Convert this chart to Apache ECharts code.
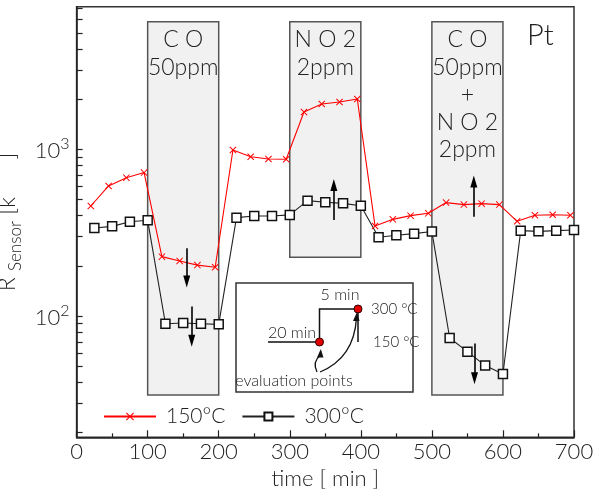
<!DOCTYPE html>
<html><head><meta charset="utf-8">
<script src="https://cdn.jsdelivr.net/npm/echarts@6/dist/echarts.min.js"></script>
<style>html,body{margin:0;padding:0;background:#fff}#c{width:600px;height:495px}</style>
</head><body><div id="c"></div>
<script>
// ---- data ----
const timeRed = [20,45,70,95,120,145,170,195,220,245,270,295,320,345,370,395,420,445,470,495,520,545,570,595,620,645,670,695];
const r150 = [457,603,676,725,227,214,202,196,990,903,875,871,1675,1870,1922,2004,347,380,400,413,479,466,472,466,370,402,405,402];
const timeBlack = [25,50,75,100,125,150,175,200,225,250,275,300,325,350,375,400,425,450,475,500,525,550,575,600,625,650,675,700];
const r300 = [337,345,368,375,89.9,90.8,89.9,89.1,389,398,398,404,492,481,474,459,297,305,312,321,73.8,61.1,50.4,44.9,325,322,325,328];
const seriesNames = ['150°C','300°C'];
const yLabelValues = [100,1000];
const yTickValues = [20,30,40,50,60,70,80,90,100,200,300,400,500,600,700,800,900,1000,2000,3000,4000,5000,6000,7000];
const boxStart = [100,300,500];
const boxEnd = [200,400,600];
const boxBottom = [33.6,225,33.6];
const boxTop = 5820;
const boxLabels = ['C O\n50ppm','N O 2\n2ppm','C O\n50ppm\n+\nN O 2\n2ppm'];
const arrowX = [155,162,362,559,560];
const arrowFrom = [255,114,377,394,68.5];
const arrowTo = [161,71,611,640,42.3];
const xTitle = 'time [ min ]';
const panelLabel = 'Pt';

const FONT = 'Lato';
const FW = 300;
const TXT = '#222';

const chart = echarts.init(document.getElementById('c'), null, {renderer:'canvas'});

const markAreaData = boxStart.map((s,i)=>[
  {xAxis:s, yAxis:boxBottom[i], label:{formatter:boxLabels[i]}},
  {xAxis:boxEnd[i], yAxis:boxTop}
]);
const markLineData = arrowX.map((x,i)=>[{coord:[x,arrowFrom[i]]},{coord:[x,arrowTo[i]]}]);

const xMark = 'path://M0,1 L1,0 L5,4 L9,0 L10,1 L6,5 L10,9 L9,10 L5,6 L1,10 L0,9 L4,5 Z';

const option = {
  animation:false,
  title:{text:panelLabel,left:527,top:21,padding:0,textStyle:{fontFamily:FONT,fontSize:29,fontWeight:FW,color:TXT}},
  grid:{left:76.6,right:26,top:6.7,bottom:57.7,outerBoundsMode:'none',containLabel:false,show:true,borderColor:'#333',borderWidth:1.5,backgroundColor:'transparent'},
  legend:{
    data:seriesNames, left:98, top:401, itemWidth:52, itemHeight:10, itemGap:16,
    textStyle:{fontFamily:FONT,fontWeight:FW,fontSize:21,color:TXT,padding:[0,0,0,5]}
  },
  xAxis:{
    type:'value',min:0,max:700,interval:100,
    name:xTitle,nameLocation:'middle',nameGap:27,
    nameTextStyle:{fontFamily:FONT,fontWeight:FW,fontSize:22,color:TXT,verticalAlign:'top'},
    axisLine:{lineStyle:{color:'#222',width:1.5}},
    axisTick:{inside:true,length:7,lineStyle:{color:'#222',width:1.2}},
    minorTick:{show:true,splitNumber:2,length:4,lineStyle:{color:'#222',width:1.2}},
    axisLabel:{fontFamily:FONT,fontWeight:FW,fontSize:22,color:TXT,margin:4},
    splitLine:{show:false}
  },
  yAxis:{
    type:'log',min:18.72,max:7170,position:'left',
    name:'{r|R }{s|Sensor}{r| [k      ]}',nameLocation:'middle',nameGap:46,
    nameTextStyle:{rich:{
      r:{fontFamily:FONT,fontWeight:FW,fontSize:23,color:TXT,lineHeight:28,verticalAlign:'top'},
      s:{fontFamily:FONT,fontWeight:FW,fontSize:17,color:TXT,lineHeight:15,verticalAlign:'bottom'}
    }},
    axisLine:{show:true,lineStyle:{color:'#222',width:1.5}},
    axisTick:{inside:true,length:6,customValues:yTickValues,lineStyle:{color:'#222',width:1.2}},
    axisLabel:{customValues:yLabelValues,margin:7,
      formatter:v=>'{b|10}{e|'+Math.round(Math.log10(v))+'}',
      rich:{
        b:{fontFamily:FONT,fontWeight:FW,fontSize:22,color:TXT,lineHeight:26,verticalAlign:'bottom'},
        e:{fontFamily:FONT,fontWeight:FW,fontSize:16,color:TXT,lineHeight:15,verticalAlign:'top'}
      }},
    splitLine:{show:false},minorTick:{show:false}
  },
  series:[
    {
      type:'line',name:'boxes',data:[],z:1,silent:true,
      markArea:{silent:true,
        itemStyle:{color:'#f1f1f1',borderColor:'#555',borderWidth:1.5},
        label:{show:true,position:'insideTop',distance:5,fontFamily:FONT,fontWeight:FW,fontSize:23,lineHeight:27.5,color:TXT},
        data:markAreaData}
    },
    {
      type:'line',name:seriesNames[1],z:3,
      data:timeBlack.map((t,i)=>[t,r300[i]]),
      symbol:'rect',symbolSize:9,showAllSymbol:true,
      lineStyle:{color:'#222',width:1.1},
      itemStyle:{color:'#fff',borderColor:'#111',borderWidth:1.5}
    },
    {
      type:'line',name:seriesNames[0],z:4,
      data:timeRed.map((t,i)=>[t,r150[i]]),
      symbol:xMark,symbolSize:7,showAllSymbol:true,
      lineStyle:{color:'#ff0000',width:1.1},
      itemStyle:{color:'#ff0000'}
    },
    {
      type:'line',name:'arrows',data:[],z:5,silent:true,
      markLine:{silent:true,symbol:['none','triangle'],symbolSize:[7,12],
        label:{show:false},
        lineStyle:{color:'#000',width:1.6,type:'solid'},
        data:markLineData}
    }
  ],
  graphic:[
    {type:'rect',shape:{x:236,y:283,width:177,height:109},style:{fill:'#fff',stroke:'#333',lineWidth:1.5},z:10},
    {type:'polyline',shape:{points:[[268,342],[319.5,342],[319.5,309],[358,309],[358,342]]},style:{fill:null,stroke:'#111',lineWidth:1.5},z:11},
    {type:'circle',shape:{cx:319.5,cy:342,r:4},style:{fill:'#e00000',stroke:'#300',lineWidth:1},z:12},
    {type:'circle',shape:{cx:358,cy:309,r:4},style:{fill:'#e00000',stroke:'#300',lineWidth:1},z:12},
    {type:'bezierCurve',shape:{x1:317,y1:372,cpx1:312,cpy1:362,x2:320.5,y2:355},style:{fill:null,stroke:'#111',lineWidth:1.3},z:11},
    {type:'polygon',shape:{points:[[320.8,349],[317,357.5],[323.5,357.5]]},style:{fill:'#111'},z:11},
    {type:'bezierCurve',shape:{x1:320,y1:372,cpx1:354,cpy1:358,x2:356.5,y2:318},style:{fill:null,stroke:'#111',lineWidth:1.3},z:11},
    {type:'polygon',shape:{points:[[357,312],[353,321],[359.5,321]]},style:{fill:'#111'},z:11},
    {type:'text',x:340,y:295,style:{text:'5 min',fontFamily:FONT,fontWeight:FW,fontSize:16,fill:TXT,align:'center',verticalAlign:'middle'},z:12},
    {type:'text',x:292,y:333,style:{text:'20 min',fontFamily:FONT,fontWeight:FW,fontSize:16,fill:TXT,align:'center',verticalAlign:'middle'},z:12},
    {type:'text',x:371,y:309,style:{text:'300 °C',fontFamily:FONT,fontWeight:FW,fontSize:15,fill:TXT,align:'left',verticalAlign:'middle'},z:12},
    {type:'text',x:373,y:342,style:{text:'150 °C',fontFamily:FONT,fontWeight:FW,fontSize:15,fill:TXT,align:'left',verticalAlign:'middle'},z:12},
    {type:'text',x:294,y:381,style:{text:'evaluation points',fontFamily:FONT,fontWeight:FW,fontSize:16,fill:TXT,align:'center',verticalAlign:'middle'},z:12}
  ]
};
chart.setOption(option);
</script></body></html>
